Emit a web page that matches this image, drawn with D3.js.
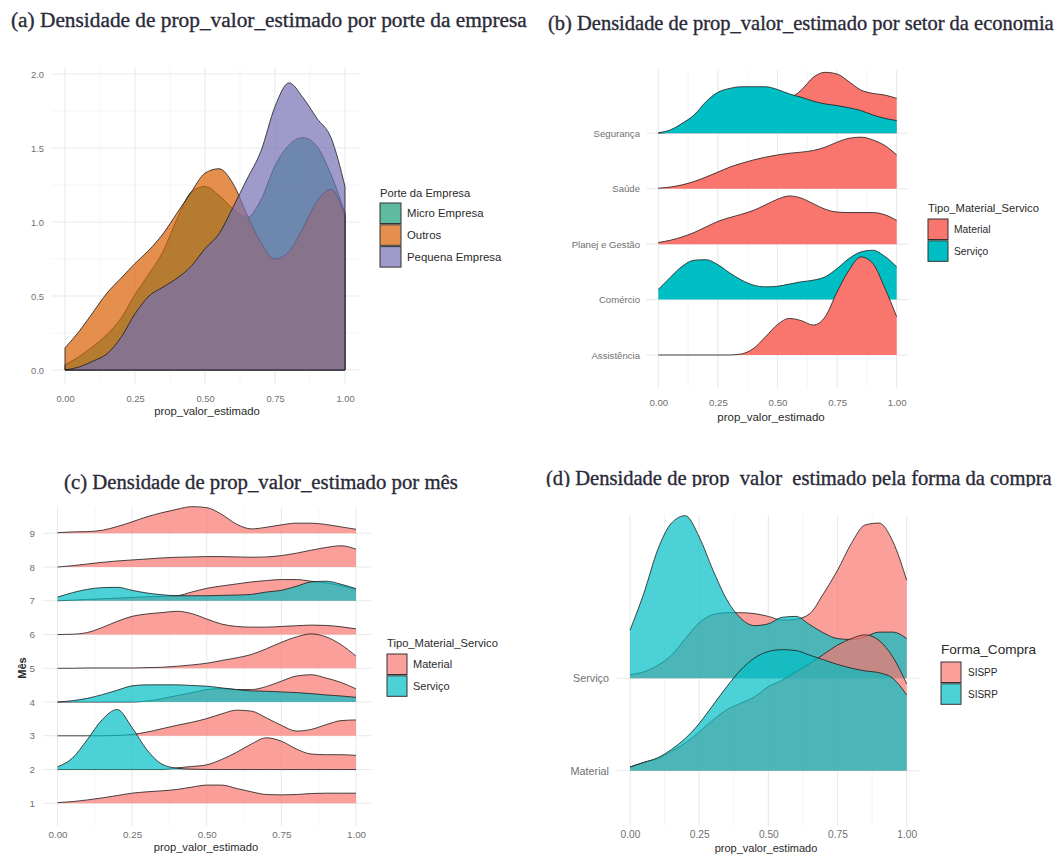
<!DOCTYPE html>
<html>
<head>
<meta charset="utf-8">
<script src="https://cdn.jsdelivr.net/npm/d3@7"></script>
<style>
  body { margin: 0; background: #fff; }
  svg { display: block; }
  text { font-family: "Liberation Sans", Arial, sans-serif; }
</style>
</head>
<body>
<svg id="chart" width="1057" height="854"></svg>
<script>
// Densities of prop_valor_estimado, evaluated on an even grid 0.00, 0.05, ..., 1.00
const gridX = d3.range(21).map(i => i / 20);
const xTicks = [0, 0.25, 0.5, 0.75, 1];

// (a) by company size (density units)
const porteLevels = ["Micro Empresa", "Outros", "Pequena Empresa"];
const porteColors = ["#1B9E77", "#D95F02", "#7570B3"];
const densMicro   = [0.035, 0.09, 0.16, 0.24, 0.35, 0.51, 0.65, 0.80, 1.02, 1.20, 1.24, 1.18, 1.09, 1.03, 1.15, 1.38, 1.52, 1.57, 1.51, 1.32, 1.06];
const densOutros  = [0.15, 0.26, 0.39, 0.52, 0.62, 0.72, 0.81, 0.92, 1.06, 1.20, 1.33, 1.36, 1.26, 1.05, 0.86, 0.75, 0.80, 0.96, 1.14, 1.22, 1.04];
const densPequena = [0.00, 0.02, 0.06, 0.11, 0.22, 0.38, 0.50, 0.56, 0.62, 0.70, 0.82, 0.92, 1.10, 1.29, 1.48, 1.78, 1.94, 1.84, 1.70, 1.57, 1.24];
const densA = [densMicro, densOutros, densPequena];
const yTicksA = [0, 0.5, 1, 1.5, 2];

// (b) by economic sector (ridge heights, in rows)
const setores = ["Assistência", "Comércio", "Planej e Gestão", "Saúde", "Segurança"];
const tipoLevels = ["Material", "Serviço"];
const tipoColors = ["#F8766D", "#00BFC4"];
const segurancaMaterial   = [0.00, 0.02, 0.05, 0.10, 0.16, 0.23, 0.30, 0.37, 0.44, 0.50, 0.56, 0.63, 0.78, 1.01, 1.10, 1.07, 0.93, 0.78, 0.72, 0.69, 0.63];
const segurancaServico    = [0.01, 0.06, 0.18, 0.33, 0.57, 0.74, 0.81, 0.84, 0.84, 0.84, 0.79, 0.71, 0.65, 0.58, 0.53, 0.50, 0.46, 0.41, 0.33, 0.27, 0.23];
const saudeMaterial       = [0.01, 0.03, 0.07, 0.13, 0.21, 0.30, 0.39, 0.46, 0.52, 0.57, 0.61, 0.64, 0.66, 0.69, 0.75, 0.84, 0.91, 0.93, 0.88, 0.78, 0.61];
const planejMaterial      = [0.03, 0.07, 0.13, 0.21, 0.31, 0.41, 0.48, 0.54, 0.61, 0.71, 0.81, 0.87, 0.83, 0.73, 0.63, 0.58, 0.57, 0.57, 0.57, 0.53, 0.43];
const comercioServico     = [0.18, 0.40, 0.60, 0.71, 0.72, 0.63, 0.48, 0.35, 0.26, 0.23, 0.24, 0.28, 0.32, 0.35, 0.41, 0.56, 0.74, 0.86, 0.89, 0.78, 0.59];
const assistenciaMaterial = [0.00, 0.00, 0.00, 0.00, 0.00, 0.00, 0.00, 0.02, 0.12, 0.33, 0.55, 0.66, 0.62, 0.54, 0.69, 1.14, 1.53, 1.77, 1.65, 1.21, 0.69];

// (c) by month (ridge heights, in rows)
const meses = ["1", "2", "3", "4", "5", "6", "7", "8", "9"];
const mes1Material = [0.02, 0.05, 0.10, 0.16, 0.23, 0.30, 0.34, 0.37, 0.41, 0.48, 0.54, 0.54, 0.44, 0.34, 0.26, 0.25, 0.26, 0.29, 0.30, 0.30, 0.30];
const mes2Material = [0.00, 0.00, 0.00, 0.00, 0.00, 0.00, 0.00, 0.00, 0.05, 0.09, 0.14, 0.30, 0.51, 0.76, 0.94, 0.84, 0.61, 0.46, 0.44, 0.44, 0.42];
const mes2Servico  = [0.08, 0.34, 0.89, 1.48, 1.78, 1.24, 0.58, 0.16, 0.04, 0.01, 0.00, 0.00, 0.00, 0.00, 0.00, 0.00, 0.00, 0.00, 0.00, 0.00, 0.00];
const mes3Material = [0.00, 0.00, 0.00, 0.00, 0.01, 0.04, 0.11, 0.21, 0.31, 0.40, 0.51, 0.65, 0.76, 0.73, 0.53, 0.31, 0.14, 0.19, 0.33, 0.45, 0.47];
const mes4Material = [0.00, 0.00, 0.00, 0.00, 0.00, 0.00, 0.03, 0.10, 0.19, 0.28, 0.37, 0.40, 0.37, 0.37, 0.46, 0.62, 0.77, 0.81, 0.71, 0.58, 0.39];
const mes4Servico  = [0.00, 0.04, 0.11, 0.22, 0.35, 0.48, 0.51, 0.51, 0.51, 0.49, 0.47, 0.42, 0.37, 0.33, 0.32, 0.30, 0.28, 0.25, 0.21, 0.18, 0.14];
const mes5Material = [0.00, 0.00, 0.01, 0.01, 0.01, 0.01, 0.02, 0.03, 0.06, 0.10, 0.15, 0.23, 0.31, 0.41, 0.58, 0.77, 0.93, 1.02, 0.93, 0.70, 0.36];
const mes6Material = [0.00, 0.01, 0.06, 0.21, 0.39, 0.54, 0.61, 0.65, 0.69, 0.62, 0.46, 0.31, 0.24, 0.22, 0.22, 0.24, 0.26, 0.28, 0.27, 0.23, 0.17];
const mes7Material = [0.00, 0.02, 0.04, 0.06, 0.08, 0.10, 0.12, 0.13, 0.15, 0.26, 0.37, 0.44, 0.50, 0.56, 0.60, 0.63, 0.63, 0.58, 0.53, 0.45, 0.33];
const mes7Servico  = [0.11, 0.24, 0.34, 0.39, 0.40, 0.31, 0.23, 0.18, 0.15, 0.15, 0.15, 0.16, 0.17, 0.19, 0.26, 0.31, 0.43, 0.56, 0.58, 0.49, 0.36];
const mes8Material = [0.00, 0.04, 0.09, 0.14, 0.18, 0.21, 0.24, 0.27, 0.29, 0.30, 0.31, 0.31, 0.30, 0.29, 0.30, 0.34, 0.41, 0.50, 0.58, 0.63, 0.53];
const mes9Material = [0.02, 0.04, 0.05, 0.09, 0.20, 0.34, 0.49, 0.61, 0.71, 0.79, 0.76, 0.56, 0.27, 0.13, 0.18, 0.25, 0.30, 0.30, 0.26, 0.19, 0.12];

// (d) by purchase form (ridge heights, in rows)
const tiposCompra = ["Material", "Serviço"];
const formaLevels = ["SISPP", "SISRP"];
const servicoSISPP  = [0.04, 0.07, 0.14, 0.25, 0.43, 0.60, 0.69, 0.71, 0.71, 0.70, 0.67, 0.63, 0.64, 0.70, 0.92, 1.17, 1.46, 1.66, 1.68, 1.48, 1.06];
const servicoSISRP  = [0.52, 0.92, 1.39, 1.68, 1.76, 1.53, 1.17, 0.85, 0.65, 0.57, 0.59, 0.66, 0.67, 0.58, 0.49, 0.43, 0.42, 0.45, 0.50, 0.50, 0.43];
const materialSISPP = [0.04, 0.09, 0.13, 0.21, 0.30, 0.42, 0.55, 0.66, 0.73, 0.80, 0.91, 0.98, 1.07, 1.16, 1.26, 1.36, 1.43, 1.47, 1.41, 1.23, 0.94];
const materialSISRP = [0.04, 0.09, 0.14, 0.23, 0.35, 0.51, 0.71, 0.91, 1.09, 1.22, 1.29, 1.31, 1.30, 1.25, 1.20, 1.15, 1.11, 1.08, 1.06, 1.00, 0.82];

// ---------------------------------------------------------------
const svg = d3.select("#chart");
const fmt2 = d3.format(".2f");
const TICK = "#707070", INK = "#2a2a2a", TITLE_INK = "#2a2a38";

function title(txt, x, y, width, clipY) {
  const t = svg.append("text").attr("x", x).attr("y", y)
    .style("font-family", "'Liberation Serif', 'DejaVu Serif', serif")
    .style("font-size", "20px").attr("fill", TITLE_INK)
    .attr("stroke", TITLE_INK).attr("stroke-width", 0.35).text(txt);
  const w = t.node().getComputedTextLength();
  t.style("font-size", (20 * width / w) + "px");
  if (clipY !== undefined) {
    const id = "clip" + Math.round(x);
    svg.append("clipPath").attr("id", id).append("rect")
      .attr("x", 0).attr("y", 0).attr("width", 1057).attr("height", clipY);
    t.attr("clip-path", `url(#${id})`);
  }
}

function vGrid(g, x, top, bottom) {
  [0.125, 0.375, 0.625, 0.875].forEach(v => g.append("line")
    .attr("x1", x(v)).attr("x2", x(v)).attr("y1", top).attr("y2", bottom)
    .attr("stroke", "#f1f1f1").attr("stroke-width", 0.7));
  xTicks.forEach(v => g.append("line")
    .attr("x1", x(v)).attr("x2", x(v)).attr("y1", top).attr("y2", bottom)
    .attr("stroke", "#e9e9e9").attr("stroke-width", 1.1));
}
function hLine(g, y, x0, x1, minor) {
  g.append("line").attr("x1", x0).attr("x2", x1).attr("y1", y).attr("y2", y)
    .attr("stroke", minor ? "#f1f1f1" : "#e9e9e9").attr("stroke-width", minor ? 0.7 : 1.1);
}

function xAxis(x, panelBottom, labelCenterY, fs) {
  const pad = labelCenterY - panelBottom - 0.36 * fs;
  const g = svg.append("g").attr("transform", `translate(0,${panelBottom})`)
    .call(d3.axisBottom(x).tickValues(xTicks).tickFormat(fmt2).tickSize(0).tickPadding(pad));
  g.select(".domain").remove();
  g.selectAll("text").attr("fill", TICK).style("font-size", fs + "px")
    .style("font-family", "'Liberation Sans', Arial, sans-serif");
}
function yAxis(scale, rightX, fs, ticks, format) {
  const ax = d3.axisLeft(scale).tickSize(0).tickPadding(0);
  if (ticks) ax.tickValues(ticks);
  if (format) ax.tickFormat(format);
  const g = svg.append("g").attr("transform", `translate(${rightX},0)`).call(ax);
  g.select(".domain").remove();
  g.selectAll("text").attr("fill", TICK).style("font-size", fs + "px")
    .style("font-family", "'Liberation Sans', Arial, sans-serif");
}
function axisTitle(txt, cx, cy, fs) {
  svg.append("text").attr("x", cx).attr("y", cy).attr("dy", "0.35em")
    .attr("text-anchor", "middle").attr("fill", INK)
    .style("font-size", fs + "px").text(txt);
}
function legend(x, titleY, ttl, tfs, labels, colors, opacity, keyTop, keyW, keyH, gap, lfs, labelX) {
  svg.append("text").attr("x", x).attr("y", titleY).attr("dy", "0.35em")
    .attr("fill", INK).style("font-size", tfs + "px").text(ttl);
  labels.forEach((lab, i) => {
    const y0 = keyTop + i * (keyH + gap);
    svg.append("rect").attr("x", x).attr("y", y0).attr("width", keyW).attr("height", keyH)
      .attr("fill", colors[i]).attr("fill-opacity", opacity)
      .attr("stroke", "#333").attr("stroke-width", 1);
    svg.append("text").attr("x", labelX).attr("y", y0 + keyH / 2).attr("dy", "0.35em")
      .attr("fill", INK).style("font-size", lfs + "px").text(lab);
  });
}

// ridge layer: fill + line along the ridge top
function ridge(g, x, base, hScale, values, color, opacity) {
  const area = d3.area().x((d, i) => x(gridX[i])).y0(base).y1(d => base - hScale(d))
    .curve(d3.curveMonotoneX);
  const line = d3.line().x((d, i) => x(gridX[i])).y(d => base - hScale(d))
    .curve(d3.curveMonotoneX);
  g.append("path").attr("d", area(values)).attr("fill", color).attr("fill-opacity", opacity);
  g.append("path").attr("d", line(values)).attr("fill", "none")
    .attr("stroke", "#1a1a1a").attr("stroke-width", 0.8);
}

// ================= (a) =================
title("(a) Densidade de prop_valor_estimado por porte da empresa", 11, 27, 516);
{
  const x = d3.scaleLinear().domain([0, 1]).range([65, 345]);
  const y = d3.scaleLinear().domain([0, 2]).range([370, 74]);
  const top = y(2.047), bottom = y(-0.095), left = x(-0.05), right = x(1.05);
  const g = svg.append("g");
  vGrid(g, x, top, bottom);
  [0.25, 0.75, 1.25, 1.75].forEach(v => hLine(g, y(v), left, right, true));
  yTicksA.forEach(v => hLine(g, y(v), left, right, false));
  const area = d3.area().x((d, i) => x(gridX[i])).y0(y(0)).y1(d => y(d)).curve(d3.curveMonotoneX);
  densA.forEach((vals, k) => {
    g.append("path").attr("d", area(vals)).attr("fill", porteColors[k]).attr("fill-opacity", 0.7)
      .attr("stroke", "#1a1a1a").attr("stroke-width", 0.8);
  });
  xAxis(x, bottom, 399, 9.4);
  yAxis(y, 44, 9.4, yTicksA, d3.format(".1f"));
  axisTitle("prop_valor_estimado", 207, 411, 11.3);
  legend(380, 193, "Porte da Empresa", 11.2, porteLevels, porteColors, 0.7, 203, 21, 20.5, 1.3, 11.4, 407);
}

// ================= (b) =================
title("(b) Densidade de prop_valor_estimado por setor da economia", 548, 30, 506);
{
  const x = d3.scaleLinear().domain([0, 1]).range([658.3, 896.7]);
  const y = d3.scalePoint().domain(setores).range([355, 133.3]);
  const h = d3.scaleLinear().domain([0, 1]).range([0, y.step()]);
  const g = svg.append("g");
  vGrid(g, x, 70, 388);
  setores.forEach(s => hLine(g, y(s), x(-0.05), x(1.05), false));
  const rows = [
    ["Segurança", segurancaMaterial, 0], ["Segurança", segurancaServico, 1],
    ["Saúde", saudeMaterial, 0],
    ["Planej e Gestão", planejMaterial, 0],
    ["Comércio", comercioServico, 1],
    ["Assistência", assistenciaMaterial, 0]
  ];
  rows.forEach(([s, vals, k]) => ridge(g, x, y(s), h, vals, tipoColors[k], 1));
  xAxis(x, 388, 403, 9.7);
  yAxis(y, 640, 9.6);
  axisTitle("prop_valor_estimado", 771, 416.5, 11.5);
  legend(928, 208, "Tipo_Material_Servico", 11.2, tipoLevels, tipoColors, 1, 219, 20, 20.5, 1.3, 10.3, 954);
}

// ================= (c) =================
title("(c) Densidade de prop_valor_estimado por mês", 64, 489, 394);
{
  const x = d3.scaleLinear().domain([0, 1]).range([57.5, 356]);
  const y = d3.scalePoint().domain(meses).range([803.3, 533.3]);
  const h = d3.scaleLinear().domain([0, 1]).range([0, y.step()]);
  const g = svg.append("g");
  vGrid(g, x, 507, 826);
  meses.forEach(m => hLine(g, y(m), x(-0.05), x(1.05), false));
  const rows = [
    ["9", mes9Material, 0],
    ["8", mes8Material, 0],
    ["7", mes7Material, 0], ["7", mes7Servico, 1],
    ["6", mes6Material, 0],
    ["5", mes5Material, 0],
    ["4", mes4Material, 0], ["4", mes4Servico, 1],
    ["3", mes3Material, 0],
    ["2", mes2Material, 0], ["2", mes2Servico, 1],
    ["1", mes1Material, 0]
  ];
  rows.forEach(([m, vals, k]) => ridge(g, x, y(m), h, vals, tipoColors[k], 0.7));
  xAxis(x, 826, 834.5, 9.8);
  yAxis(y, 35, 9.8);
  axisTitle("prop_valor_estimado", 206, 847.5, 11.2);
  svg.append("text").attr("transform", "translate(22,668) rotate(-90)").attr("dy", "0.35em")
    .attr("text-anchor", "middle").attr("fill", INK).style("font-size", "11px")
    .style("font-weight", "bold").text("Mês");
  legend(387, 643, "Tipo_Material_Servico", 11.2, tipoLevels, tipoColors, 0.7, 654, 20, 20.5, 1.3, 11, 413);
}

// ================= (d) =================
title("(d) Densidade de prop_valor_estimado pela forma da compra", 546, 485, 506, 487);
{
  const x = d3.scaleLinear().domain([0, 1]).range([630, 906.7]);
  const y = d3.scalePoint().domain(tiposCompra).range([770.7, 678.3]);
  const h = d3.scaleLinear().domain([0, 1]).range([0, y.step()]);
  const g = svg.append("g");
  vGrid(g, x, 515, 826);
  tiposCompra.forEach(t => hLine(g, y(t), x(-0.05), x(1.05), false));
  const rows = [
    ["Serviço", servicoSISPP, 0], ["Serviço", servicoSISRP, 1],
    ["Material", materialSISPP, 0], ["Material", materialSISRP, 1]
  ];
  rows.forEach(([t, vals, k]) => ridge(g, x, y(t), h, vals, tipoColors[k], 0.7));
  xAxis(x, 826, 834.5, 10.2);
  yAxis(y, 609, 10.8);
  axisTitle("prop_valor_estimado", 766, 848, 11);
  legend(941, 649, "Forma_Compra", 13.6, formaLevels, tipoColors, 0.7, 662, 20, 20.5, 1.3, 10, 968);
}
</script>
</body>
</html>
